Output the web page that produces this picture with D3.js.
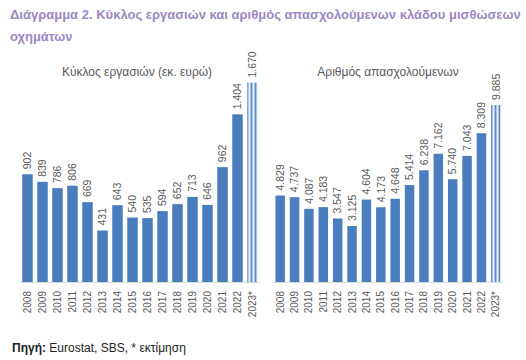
<!DOCTYPE html>
<html><head><meta charset="utf-8">
<script src="https://cdn.jsdelivr.net/npm/d3@7"></script>
<style>body{margin:0;background:#fff;} svg{display:block;}</style>
</head><body>
<svg id="c" width="526" height="360"></svg>
<script>
const years = ["2008","2009","2010","2011","2012","2013","2014","2015","2016","2017","2018","2019","2020","2021","2022","2023*"];
const turnover = [902,839,786,806,669,431,643,540,535,594,652,713,646,962,1404,1670];
const employees = [4829,4737,4087,4183,3547,3125,4604,4173,4648,5414,6238,7162,5740,7043,8309,9885];
const title1 = "Διάγραμμα 2. Κύκλος εργασιών και αριθμός απασχολούμενων κλάδου μισθώσεων";
const title2 = "οχημάτων";
const subTitles = ["Κύκλος εργασιών (εκ. ευρώ)", "Αριθμός απασχολούμενων"];

const svg = d3.select("#c");
const font = "'Liberation Sans', Arial, sans-serif";
const fmt = d3.formatLocale({decimal:",", thousands:".", grouping:[3], currency:["","€"]}).format(",d");

const defs = svg.append("defs");
const pat = defs.append("pattern").attr("id","stripe").attr("patternUnits","userSpaceOnUse")
  .attr("width",4).attr("height",4);
pat.append("rect").attr("width",4).attr("height",4).attr("fill","#aac3e8");
pat.append("rect").attr("x",1).attr("width",1).attr("height",4).attr("fill","#e9f0fa");
pat.append("rect").attr("x",3).attr("width",1).attr("height",4).attr("fill","#6189cc");

svg.append("text").attr("x",10).attr("y",19).text(title1)
  .attr("font-family",font).attr("font-weight","bold").attr("font-size",13).attr("fill","#9a88c4");
svg.append("text").attr("x",10).attr("y",41).text(title2)
  .attr("font-family",font).attr("font-weight","bold").attr("font-size",13).attr("fill","#9a88c4");

const baseY = 282, topY = 82;
function panel(vals, x0, x1, maxV, pad, subtitle) {
  const x = d3.scaleBand().domain(years).range([x0,x1]).paddingInner(pad).paddingOuter(pad/2);
  const y = d3.scaleLinear().domain([0,maxV]).range([baseY,topY]);
  const g = svg.append("g");
  g.append("line").attr("x1",x0).attr("x2",x1).attr("y1",baseY+0.5).attr("y2",baseY+0.5)
    .attr("stroke","#d9d9d9").attr("stroke-width",1);
  g.selectAll("rect.bar").data(vals).join("rect").attr("class","bar")
    .attr("x",(d,i)=>x(years[i])).attr("width",x.bandwidth())
    .attr("y",d=>y(d)).attr("height",d=>baseY-y(d))
    .attr("fill",(d,i)=> i===years.length-1 ? "url(#stripe)" : "#4a7dbd");
  g.selectAll("text.val").data(vals).join("text").attr("class","val")
    .attr("transform",(d,i)=>`translate(${x(years[i])+x.bandwidth()/2},${y(d)-5}) rotate(-90)`)
    .attr("dy","0.35em").attr("text-anchor","start")
    .attr("font-family",font).attr("font-size",10.5).attr("fill","#595959").text(d=>fmt(d));
  g.selectAll("text.yr").data(years).join("text").attr("class","yr")
    .attr("transform",d=>`translate(${x(d)+x.bandwidth()/2},${baseY+9}) rotate(-90)`)
    .attr("dy","0.35em").attr("text-anchor","end")
    .attr("font-family",font).attr("font-size",10).attr("fill","#595959").text(d=>d);
  g.append("text").attr("x",(x0+x1)/2 + (subtitle===subTitles[0]? -3:0)).attr("y",76).attr("text-anchor","middle")
    .attr("font-family",font).attr("font-size",12).attr("fill","#595959").text(subtitle);
}
panel(turnover, 20, 260, 1675, 0.3, subTitles[0]);
panel(employees, 273, 503, 11170, 0.34, subTitles[1]);

const f = svg.append("text").attr("x",12).attr("y",352).attr("font-family",font).attr("font-size",12).attr("fill","#222");
f.append("tspan").attr("font-weight","bold").text("Πηγή:");
f.append("tspan").text(" Eurostat, SBS, * εκτίμηση");
</script>
</body></html>
